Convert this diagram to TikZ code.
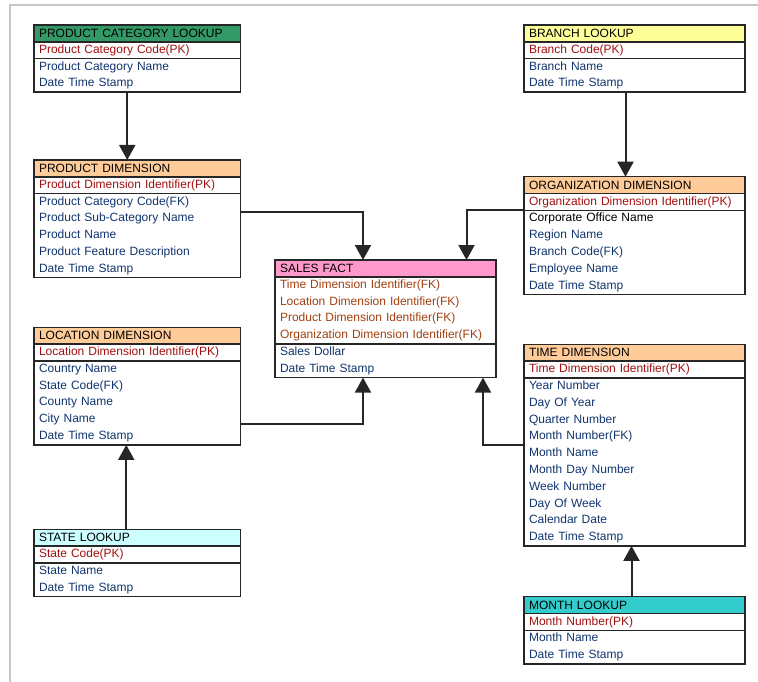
\documentclass[tikz,border=0pt]{standalone}
\usepackage{fontspec}
\setmainfont{Liberation Sans}
\usetikzlibrary{positioning,arrows.meta}
\definecolor{hdgreen}{RGB}{51,153,102}
\definecolor{hdorange}{RGB}{255,204,153}
\definecolor{hdpink}{RGB}{255,153,204}
\definecolor{hdyellow}{RGB}{255,255,153}
\definecolor{hdcyan}{RGB}{204,255,255}
\definecolor{hdteal}{RGB}{51,204,204}
\definecolor{pkred}{RGB}{160,16,16}
\definecolor{fkbrown}{RGB}{160,64,16}
\definecolor{attblue}{RGB}{16,52,110}
\definecolor{framegray}{RGB}{200,200,200}
\newcommand{\tblfont}{\fontsize{12}{16.8}\selectfont}

\begin{document}
\begin{tikzpicture}[x=1pt,y=-1pt,>={Triangle[width=16pt,length=15pt]},
	tbl/.style={draw=black!85,line width=1.5pt,outer sep=0pt,inner xsep=5pt,inner ysep=0pt,
		align=left,font=\tblfont,text width=#1-10pt,minimum height=16.8pt},
	tblL/.style={tbl=206.5pt},
	tblR/.style={tbl=221pt},
	head/.style={fill=#1,text=black,anchor=north west},
	pk/.style={text=pkred},
	att/.style={text=attblue,minimum height=#1*16.8pt},
	link/.style={->,line width=2pt,black!85}]
	\useasboundingbox (0,0) rectangle (758,682);
	\draw[framegray,line width=1.5pt] (10,682) -- (10,5) -- (758,5);

\node[tblL,head=hdgreen] (PC) at (34,25) {PRODUCT CATEGORY LOOKUP};
\node[tblL,pk,below=0pt of PC] (PC-pk) {Product Category Code(PK)};
\node[tblL,att=2,below=0pt of PC-pk] (PC-at) {Product Category Name\\Date Time Stamp};

\node[tblL,head=hdorange] (PD) at (34,160) {PRODUCT DIMENSION};
\node[tblL,pk,below=0pt of PD] (PD-pk) {Product Dimension Identifier(PK)};
\node[tblL,att=5,below=0pt of PD-pk] (PD-at) {Product Category Code(FK)\\Product Sub-Category Name\\Product Name\\Product Feature Description\\Date Time Stamp};

\node[tblL,head=hdorange] (LD) at (34,327.3) {LOCATION DIMENSION};
\node[tblL,pk,below=0pt of LD] (LD-pk) {Location Dimension Identifier(PK)};
\node[tblL,att=5,below=0pt of LD-pk] (LD-at) {Country Name\\State Code(FK)\\County Name\\City Name\\Date Time Stamp};

\node[tblL,head=hdcyan] (SL) at (34,529.3) {STATE LOOKUP};
\node[tblL,pk,below=0pt of SL] (SL-pk) {State Code(PK)};
\node[tblL,att=2,below=0pt of SL-pk] (SL-at) {State Name\\Date Time Stamp};

\node[tblR,head=hdpink] (SF) at (275,260) {SALES FACT};
\node[tblR,text=fkbrown,minimum height=4*16.8pt,below=0pt of SF] (SF-fk) {Time Dimension Identifier(FK)\\Location Dimension Identifier(FK)\\Product Dimension Identifier(FK)\\Organization Dimension Identifier(FK)};
\node[tblR,att=2,below=0pt of SF-fk] (SF-at) {Sales Dollar\\Date Time Stamp};

\node[tblR,head=hdyellow] (BL) at (524,25) {BRANCH LOOKUP};
\node[tblR,pk,below=0pt of BL] (BL-pk) {Branch Code(PK)};
\node[tblR,att=2,below=0pt of BL-pk] (BL-at) {Branch Name\\Date Time Stamp};

\node[tblR,head=hdorange] (OD) at (524,176.7) {ORGANIZATION DIMENSION};
\node[tblR,pk,below=0pt of OD] (OD-pk) {Organization Dimension Identifier(PK)};
\node[tblR,att=5,below=0pt of OD-pk] (OD-at) {{\color{black}Corporate Office Name}\\Region Name\\Branch Code(FK)\\Employee Name\\Date Time Stamp};

\node[tblR,head=hdorange] (TD) at (524,344.3) {TIME DIMENSION};
\node[tblR,pk,below=0pt of TD] (TD-pk) {Time Dimension Identifier(PK)};
\node[tblR,att=10,below=0pt of TD-pk] (TD-at) {Year Number\\Day Of Year\\Quarter Number\\Month Number(FK)\\Month Name\\Month Day Number\\Week Number\\Day Of Week\\Calendar Date\\Date Time Stamp};

\node[tblR,head=hdteal] (ML) at (524,596.7) {MONTH LOOKUP};
\node[tblR,pk,below=0pt of ML] (ML-pk) {Month Number(PK)};
\node[tblR,att=2,below=0pt of ML-pk] (ML-at) {Month Name\\Date Time Stamp};

\draw[link] ([xshift=-10pt]PC-at.south) -- ([xshift=-10pt]PD.north);
\draw[link] ([xshift=-11pt]SL.north) -- ([xshift=-11pt]LD-at.south);
\draw[link] ([xshift=-9pt]BL-at.south) -- ([xshift=-9pt]OD.north);
\draw[link] ([xshift=-3pt]ML.north) -- ([xshift=-3pt]TD-at.south);
\draw[link] ([yshift=-18.4pt]PD-at.north east) -| ([xshift=-22.5pt]SF.north);
\draw[link] (OD-pk.south west) -| ([xshift=81pt]SF.north);
\draw[link] ([yshift=-63pt]LD-at.north east) -| ([xshift=-22.5pt]SF-at.south);
\draw[link] ([yshift=-67.2pt]TD-at.north west) -| ([xshift=97.5pt]SF-at.south);
\end{tikzpicture}
\end{document}
